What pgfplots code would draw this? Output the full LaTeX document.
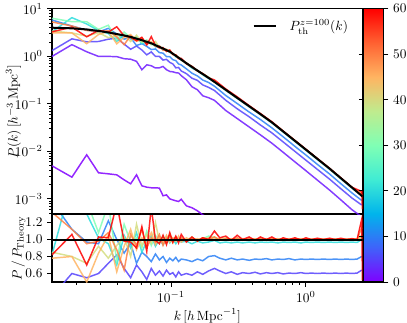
\documentclass[border=0pt]{standalone}
\usepackage{pgfplots}
\usepackage{pgfplotstable}
\pgfplotsset{compat=1.18}

% matplotlib "rainbow" sampled at 0,1/8,...,1
\pgfplotsset{
  colormap={mplrainbow}{rgb=(0.5,0,1) rgb=(0.25,0.383,0.981) rgb=(0,0.707,0.924)
    rgb=(0.25,0.924,0.831) rgb=(0.5,1,0.707) rgb=(0.75,0.924,0.556)
    rgb=(1,0.707,0.383) rgb=(1,0.383,0.195) rgb=(1,0,0)},
}
\definecolor{zA}{rgb}{0.5,0,1}
\definecolor{zB}{rgb}{0.433,0.105,0.999}
\definecolor{zC}{rgb}{0.333,0.259,0.991}
\definecolor{zD}{rgb}{0.167,0.5,0.966}
\definecolor{zE}{rgb}{0.167,0.866,0.866}
\definecolor{zF}{rgb}{0.5,1,0.707}
\definecolor{zG}{rgb}{0.833,0.866,0.5}
\definecolor{zH}{rgb}{1,0.707,0.383}
\definecolor{zO}{rgb}{1,0.5,0.259}
\definecolor{zR}{rgb}{1,0,0}

% P(k) per snapshot, th = theory at z=100
\pgfplotstableread{
k th a b c d e f g h o r
0.0131 3.98 0.00495 0.99 1.31 5.77 3.26 6.29 3.38 3.10 5.25 3.26
0.0184 3.86 0.00286 1.75 2.32 4.32 6.48 5.33 3.09 3.09 4.32 4.09
0.0237 3.66 0.00844 1.24 2.01 3.55 4.76 5.31 2.64 1.83 3.48 2.56
0.0290 3.40 0.00353 0.99 2.04 3.23 3.47 3.67 3.13 2.86 3.33 3.50
0.0343 3.16 0.00336 0.99 2.28 3.86 3.00 4.49 2.46 3.32 3.41 3.22
0.0396 2.93 0.0032 0.98 2.40 2.93 2.05 2.20 2.72 1.82 2.58 4.16
0.0449 2.73 0.00251 0.886 1.80 2.29 2.87 3.22 2.81 2.51 1.75 2.68
0.0502 2.55 0.00207 0.865 1.40 2.45 2.30 2.47 2.04 2.86 2.70 2.47
0.0555 2.34 0.0032 0.78 1.64 1.68 2.53 2.39 2.76 2.06 2.18 2.11
0.0608 2.17 0.00188 0.52 1.35 1.84 1.84 1.95 2.00 2.21 2.43 2.50
0.0661 2.01 0.00176 0.66 1.07 1.61 1.97 2.21 2.13 1.91 1.81 1.73
0.0714 1.87 0.00171 0.63 1.23 1.38 1.94 1.74 1.80 2.02 1.91 2.58
0.0767 1.71 0.00171 0.565 0.99 1.42 1.57 1.80 2.05 1.61 1.66 1.69
0.0820 1.57 0.00168 0.57 0.99 1.19 1.57 1.52 1.54 1.62 1.66 1.49
0.0873 1.45 0.00116 0.61 0.83 1.16 1.36 1.51 1.48 1.39 1.35 1.52
0.0926 1.34 0.00121 0.52 0.86 0.98 1.38 1.29 1.27 1.41 1.35 1.26
0.0979 1.25 0.0010 0.478 0.74 0.975 1.20 1.275 1.34 1.21 1.30 1.35
0.1032 1.129 0.00095 0.47 0.69 0.847 1.14 1.106 1.095 1.152 1.084 1.095
0.1085 1.023 0.00091 0.45 0.57 0.808 0.972 1.054 1.054 1.003 1.054 1.064
0.1138 0.930 0.00088 0.443 0.58 0.688 0.930 0.921 0.911 0.967 0.921 0.893
0.1191 0.850 0.00098 0.39 0.49 0.655 0.825 0.867 0.867 0.825 0.867 0.901
0.13 0.714 0.000713 0.32 0.43 0.543 0.700 0.700 0.707 0.728 0.700 0.693
0.143 0.594 0.00065 0.228 0.345 0.44 0.564 0.606 0.612 0.588 0.600 0.612
0.157 0.4995 0.00056 0.197 0.31 0.385 0.490 0.4945 0.490 0.5045 0.4945 0.4895
0.172 0.4217 0.00046 0.147 0.249 0.316 0.405 0.426 0.430 0.4175 0.430 0.430
0.19 0.3506 0.0004 0.134 0.221 0.280 0.340 0.365 0.354 0.358 0.3506 0.3506
0.21 0.2884 nan 0.118 0.190 0.234 0.2855 0.294 0.297 0.2884 0.297 0.317
0.255 0.1962 nan 0.072 0.118 0.149 0.190 0.198 0.200 0.194 0.198 0.204
0.31 0.1329 nan 0.0488 0.0784 0.101 0.129 0.134 0.1342 0.1316 0.1356 0.1395
0.38 0.0886 nan 0.0325 0.0532 0.0669 0.0859 0.0895 0.0895 0.0886 0.0895 0.0913
0.46 0.0606 nan 0.0222 0.0358 0.0467 0.0588 0.0612 0.0612 0.0600 0.0612 0.0624
0.56 0.0406 nan 0.0148 0.0244 0.0311 0.0394 0.0410 0.0410 0.0406 0.0410 0.0418
0.68 0.0261 nan 0.0095 0.0157 0.0201 0.0252 0.0264 0.0264 0.0258 0.0264 0.0266
0.83 0.0166 nan 0.0060 0.00996 0.0127 0.0160 0.0168 0.0168 0.0166 0.0168 0.0169
1.0 0.01087 nan 0.00392 0.00652 0.00837 0.01049 0.01092 0.01098 0.01082 0.01098 0.01109
1.22 0.00692 nan 0.00247 0.00415 0.00529 0.00668 0.00695 0.00695 0.00692 0.00695 0.00702
1.5 0.00433 nan 0.00153 0.0026 0.00333 0.00418 0.00435 0.00435 0.00431 0.00435 0.00439
1.82 0.00272 nan 0.00095 0.00163 0.00208 0.00262 0.00273 0.00273 0.00272 0.00273 0.00276
2.2 0.00173 nan 0.00059 0.00104 0.00133 0.00167 0.00174 0.00174 0.00173 0.00174 0.00175
2.6 0.001156 nan 0.00042 0.00074 0.000925 0.00116 0.00118 0.00119 0.00121 0.00132 0.00143
2.63 0.00112 nan nan nan nan nan nan nan nan nan 0.00060
}\pk

% P / P_theory
\pgfplotstableread{
k c d e f g h o r
0.0131 0.33 1.45 0.82 1.58 0.85 0.78 1.32 0.82
0.0184 0.60 1.12 1.68 1.38 0.80 0.80 1.12 1.06
0.0237 0.55 0.97 1.30 1.45 0.72 0.50 0.95 0.70
0.0290 0.60 0.95 1.02 1.08 0.92 0.84 0.98 1.03
0.0343 0.72 1.22 0.95 1.42 0.78 1.05 1.08 1.02
0.0396 0.82 1.00 0.70 0.75 0.93 0.62 0.88 1.42
0.0449 0.66 0.84 1.05 1.18 1.03 0.92 0.64 0.98
0.0502 0.55 0.96 0.90 0.97 0.80 1.12 1.06 0.97
0.0555 0.70 0.72 1.08 1.02 1.18 0.88 0.93 0.90
0.0608 0.62 0.85 0.85 0.90 0.92 1.02 1.12 1.15
0.0661 0.53 0.80 0.98 1.10 1.06 0.95 0.90 0.86
0.0714 0.66 0.74 1.04 0.93 0.96 1.08 1.02 1.38
0.0767 0.58 0.83 0.92 1.05 1.20 0.94 0.97 0.99
0.0820 0.63 0.76 1.00 0.97 0.98 1.03 1.06 0.95
0.0873 0.57 0.80 0.94 1.04 1.02 0.96 0.93 1.05
0.0926 0.64 0.73 1.03 0.96 0.95 1.05 1.01 0.94
0.0979 0.59 0.78 0.96 1.02 1.07 0.97 1.04 1.08
0.1032 0.61 0.75 1.01 0.98 0.97 1.02 0.96 0.97
0.1085 0.56 0.79 0.95 1.03 1.03 0.98 1.03 1.04
0.1138 0.62 0.74 1.00 0.99 0.98 1.04 0.99 0.96
0.1191 0.58 0.77 0.97 1.02 1.02 0.97 1.02 1.06
0.13 0.60 0.76 0.98 0.98 0.99 1.02 0.98 0.97
0.143 0.58 0.74 0.95 1.02 1.03 0.99 1.01 1.03
0.157 0.62 0.77 0.98 0.99 0.98 1.01 0.99 0.98
0.172 0.59 0.75 0.96 1.01 1.02 0.99 1.02 1.02
0.19 0.63 0.80 0.97 1.04 1.01 1.02 1.00 1.00
0.21 0.66 0.81 0.99 1.02 1.03 1.00 1.03 1.10
0.23 0.63 0.78 0.96 0.99 1.00 1.01 0.99 1.02
0.255 0.60 0.76 0.97 1.01 1.02 0.99 1.01 1.04
0.28 0.62 0.78 0.96 1.00 0.99 1.01 1.00 0.99
0.31 0.59 0.76 0.97 1.01 1.01 0.99 1.02 1.05
0.34 0.61 0.77 0.96 0.99 1.00 1.01 0.99 1.00
0.38 0.60 0.755 0.97 1.01 1.01 1.00 1.01 1.03
0.42 0.615 0.77 0.96 1.00 0.99 1.01 1.00 0.99
0.46 0.595 0.765 0.97 1.01 1.01 0.99 1.01 1.03
0.51 0.61 0.775 0.965 0.99 1.00 1.01 0.99 1.00
0.56 0.60 0.76 0.97 1.01 1.01 1.00 1.01 1.03
0.62 0.61 0.77 0.96 1.00 0.99 1.01 1.00 0.99
0.68 0.595 0.765 0.97 1.01 1.01 0.99 1.01 1.02
0.75 0.605 0.775 0.965 0.99 1.00 1.01 0.995 1.00
0.83 0.60 0.76 0.97 1.01 1.01 1.00 1.01 1.02
0.92 0.61 0.77 0.96 1.00 0.995 1.01 1.00 0.995
1.0 0.60 0.765 0.97 1.005 1.01 0.995 1.01 1.02
1.1 0.605 0.77 0.965 0.995 1.00 1.005 0.995 1.00
1.22 0.60 0.765 0.97 1.005 1.005 1.00 1.005 1.015
1.35 0.605 0.77 0.965 0.995 1.00 1.005 1.00 1.00
1.5 0.60 0.765 0.97 1.005 1.005 0.995 1.005 1.015
1.65 0.605 0.77 0.965 1.00 1.00 1.005 1.00 1.00
1.82 0.60 0.765 0.97 1.005 1.005 1.00 1.005 1.015
2.0 0.605 0.77 0.965 0.995 1.00 1.005 1.00 1.00
2.2 0.60 0.765 0.97 1.005 1.005 1.00 1.005 1.01
2.4 0.605 0.77 0.965 1.00 1.00 1.005 1.00 1.00
2.6 0.64 0.80 1.00 1.02 1.03 1.05 1.14 1.24
2.63 nan nan nan nan nan nan nan 0.52
}\ratio

\tikzset{pk/.style={line width=1.1pt, opacity=0.85}}

\begin{document}
\begin{tikzpicture}
\path[use as bounding box] (-39pt,-30pt) rectangle (266.25pt,211.5pt);

% ratio panel
\begin{axis}[
    name=ratio, at={(0,0)}, anchor=south west,
    scale only axis, width=233pt, height=51pt,
    xmode=log, xmin=0.0131, xmax=2.64,
    ymin=0.5, ymax=1.3, ytick={0.6,0.8,1.0,1.2},
    yticklabel style={/pgf/number format/.cd, fixed, fixed zerofill, precision=1},
    xtick pos=bottom, ytick pos=left,
    tick align=outside, major tick length=3.6pt, minor tick length=2pt,
    every tick/.append style={black, line width=0.6pt},
    axis line style={line width=0.8pt},
    xlabel={$k\,[h\,\mathrm{Mpc}^{-1}]$},
    ylabel={$P\,/\,P_{\rm Theory}$},
    ylabel style={at={(axis description cs:-0.108,0.5)}, anchor=center},
    xlabel style={yshift=2pt},
]
\addplot[pk, zC, forget plot] table[x=k, y=c] {\ratio};
\addplot[pk, zD, forget plot] table[x=k, y=d] {\ratio};
\addplot[pk, zE, forget plot] table[x=k, y=e] {\ratio};
\addplot[pk, zF, forget plot] table[x=k, y=f] {\ratio};
\addplot[pk, zG, forget plot] table[x=k, y=g] {\ratio};
\addplot[pk, zH, forget plot] table[x=k, y=h] {\ratio};
\addplot[pk, zO, forget plot] table[x=k, y=o] {\ratio};
\addplot[pk, zR, forget plot] table[x=k, y=r] {\ratio};
\addplot[black, line width=1.5pt] coordinates {(0.0131,1) (2.64,1)};
\end{axis}

% power spectra
\begin{axis}[
    name=main, at={(0,51pt)}, anchor=south west,
    scale only axis, width=233pt, height=154pt,
    xmode=log, xmin=0.0131, xmax=2.64,
    ymode=log, ymin=4.8e-4, ymax=10,
    xmajorticks=false, xminorticks=false, ytick pos=left,
    tick align=outside, major tick length=3.6pt, minor tick length=2pt,
    every tick/.append style={black, line width=0.6pt},
    axis line style={line width=0.8pt},
    ylabel={$P(k)\,[h^{-3}\,\mathrm{Mpc}^3]$},
    ylabel style={at={(axis description cs:-0.124,0.5)}, anchor=center},
    legend style={draw=none, fill=none, at={(0.975,0.975)}, anchor=north east,
      legend cell align=left},
    legend image code/.code={
      \draw[line width=1.5pt] (0cm,0cm) -- (0.6cm,0cm);
      \path (0.85cm,0cm);
    },
    colorbar, colormap name=mplrainbow, point meta min=0, point meta max=60,
    colorbar shift/.style={xshift=0.75pt},
    colorbar style={
      at={(parent axis.north east)}, anchor=north west,
      width=15pt, height=205pt,
      ytick={0,10,20,30,40,50,60}, yticklabel pos=right,
      tick align=outside, major tick length=3.6pt,
      axis line style={line width=0.8pt},
    },
]
\addplot[pk, zA, forget plot] table[x=k, y=a] {\pk};
\addplot[pk, zB, forget plot] table[x=k, y=b] {\pk};
\addplot[pk, zC, forget plot] table[x=k, y=c] {\pk};
\addplot[pk, zD, forget plot] table[x=k, y=d] {\pk};
\addplot[pk, zE, forget plot] table[x=k, y=e] {\pk};
\addplot[pk, zF, forget plot] table[x=k, y=f] {\pk};
\addplot[pk, zG, forget plot] table[x=k, y=g] {\pk};
\addplot[pk, zH, forget plot] table[x=k, y=h] {\pk};
\addplot[pk, zO, forget plot] table[x=k, y=o] {\pk};
\addplot[pk, zR, forget plot] table[x=k, y=r] {\pk};
\addplot[black, line width=1.5pt] table[x=k, y=th] {\pk};
\addlegendentry{$P_{\rm th}^{z=100}(k)$}
\end{axis}
\end{tikzpicture}
\end{document}
